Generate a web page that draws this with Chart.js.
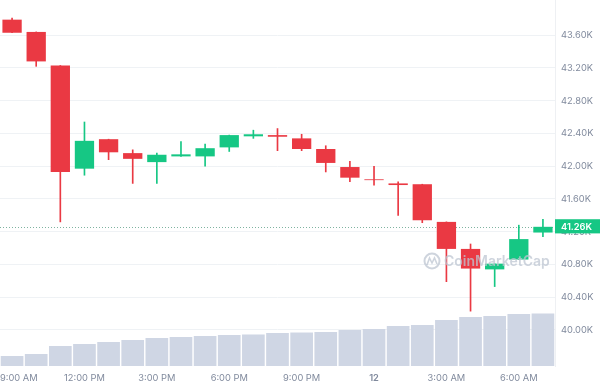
<!DOCTYPE html>
<html>
<head>
<meta charset="utf-8">
<script src="https://cdn.jsdelivr.net/npm/chart.js@4.4.1/dist/chart.umd.min.js"></script>
<style>
  html, body { margin: 0; padding: 0; background: #fff; }
</style>
</head>
<body>
<canvas id="chart" width="600" height="388"></canvas>
<script>
// hourly BTC candles (K USD)
const hours = ['9:00 AM', '10:00 AM', '11:00 AM', '12:00 PM', '1:00 PM', '2:00 PM', '3:00 PM', '4:00 PM',
  '5:00 PM', '6:00 PM', '7:00 PM', '8:00 PM', '9:00 PM', '10:00 PM', '11:00 PM', '12',
  '1:00 AM', '2:00 AM', '3:00 AM', '4:00 AM', '5:00 AM', '6:00 AM', '7:00 AM'];
const opens  = [43.79, 43.64, 43.23, 41.97, 42.33, 42.16, 42.05, 42.12, 42.12, 42.23, 42.365, 42.38,
  42.34, 42.21, 41.99, 41.84, 41.79, 41.78, 41.32, 40.99, 40.74, 40.86, 41.19];
const closes = [43.63, 43.28, 41.93, 42.31, 42.17, 42.09, 42.14, 42.145, 42.22, 42.38, 42.39, 42.36,
  42.21, 42.04, 41.86, 41.83, 41.77, 41.34, 40.99, 40.75, 40.81, 41.11, 41.26];
const highs  = [43.81, 43.64, 43.23, 42.54, 42.33, 42.20, 42.16, 42.30, 42.27, 42.38, 42.44, 42.46,
  42.39, 42.25, 42.06, 42.00, 41.81, 41.78, 41.32, 41.05, 40.81, 41.28, 41.35];
const lows   = [43.63, 43.22, 41.32, 41.89, 42.08, 41.79, 41.79, 42.12, 42.00, 42.18, 42.34, 42.19,
  42.19, 41.93, 41.81, 41.77, 41.40, 41.31, 40.59, 40.23, 40.53, 40.86, 41.14];
const volumes = [2.73, 3.28, 5.46, 6.01, 6.56, 7.10, 7.65, 7.92, 8.20, 8.47, 8.61, 9.02,
  9.15, 9.29, 9.84, 10.11, 10.93, 11.20, 12.57, 13.39, 13.66, 14.21, 14.37];
const yTicks = [40.00, 40.40, 40.80, 41.20, 41.60, 42.00, 42.40, 42.80, 43.20, 43.60];
const lastPrice = 41.26;

const green = '#16c784';
const red = '#ea3943';
const labelGray = '#808a9d';

const candleColors = opens.map((o, i) => closes[i] >= o ? green : red);
const bodies = opens.map((o, i) => [o, closes[i]]);
const wicks = lows.map((l, i) => [l, highs[i]]);

// dotted last-price line + watermark
const extras = {
  id: 'extras',
  afterLayout(chart) {
    // keep first time label inside the canvas
    const items = chart.scales.x.getLabelItems();
    if (items.length && items[0].options) {
      items[0].options.textAlign = 'left';
      items[0].options.translation[0] = chart.chartArea.left;
    }
  },
  beforeDatasetsDraw(chart) {
    const { ctx, chartArea } = chart;
    const y = chart.scales.y.getPixelForValue(lastPrice);
    ctx.save();
    ctx.strokeStyle = '#7fb3a0';
    ctx.lineWidth = 1;
    ctx.setLineDash([1, 2]);
    ctx.beginPath();
    ctx.moveTo(chartArea.left, Math.round(y) + 0.5);
    ctx.lineTo(chartArea.right, Math.round(y) + 0.5);
    ctx.stroke();
    ctx.restore();
  },
  afterDatasetsDraw(chart) {
    const ctx = chart.ctx;
    ctx.save();
    ctx.strokeStyle = 'rgba(190,197,210,0.75)';
    ctx.fillStyle = 'rgba(190,197,210,0.75)';
    ctx.lineWidth = 2;
    ctx.beginPath();
    ctx.arc(432, 261, 7.5, 0, Math.PI * 2);
    ctx.stroke();
    ctx.lineWidth = 1.6;
    ctx.beginPath();
    ctx.moveTo(427, 265);
    ctx.lineTo(429.5, 258);
    ctx.lineTo(432, 263);
    ctx.lineTo(434.5, 258);
    ctx.lineTo(437, 264);
    ctx.stroke();
    ctx.font = '600 14px Inter';
    ctx.textBaseline = 'middle';
    ctx.fillText('CoinMarketCap', 444, 262);
    ctx.restore();
  }
};

new Chart(document.getElementById('chart'), {
  type: 'bar',
  data: {
    labels: hours,
    datasets: [
      {
        label: 'Body',
        data: bodies,
        backgroundColor: candleColors,
        barPercentage: 0.8,
        categoryPercentage: 1,
        grouped: false,
        order: 1
      },
      {
        label: 'Wick',
        data: wicks,
        backgroundColor: candleColors,
        barThickness: 1,
        grouped: false,
        order: 2
      },
      {
        label: 'Volume',
        data: volumes,
        yAxisID: 'vol',
        backgroundColor: '#cfd6e4',
        barPercentage: 0.94,
        categoryPercentage: 1,
        grouped: false,
        order: 3
      }
    ]
  },
  options: {
    responsive: false,
    animation: false,
    layout: { padding: 0 },
    plugins: {
      legend: { display: false },
      tooltip: { enabled: false }
    },
    scales: {
      x: {
        grid: { display: false, drawTicks: false },
        border: { display: false },
        ticks: {
          autoSkip: false,
          maxRotation: 0,
          align: 'inner',
          padding: 7,
          color: labelGray,
          font: c => ({ family: 'Inter', size: 9.3, weight: c.tick && c.tick.label === '12' ? '600' : '400' }),
          callback: function (v, i) { return i % 3 === 0 ? this.getLabelForValue(v) : ''; }
        },
        afterFit: s => { s.height = 22; s.paddingLeft = 0; s.paddingRight = 0; }
      },
      y: {
        position: 'right',
        min: 39.56,
        max: 44.03,
        afterBuildTicks: s => { s.ticks = yTicks.concat([lastPrice]).map(v => ({ value: v })); },
        grid: {
          drawTicks: false,
          color: c => c.tick && c.tick.value === lastPrice ? 'rgba(0,0,0,0)' : '#eff2f5'
        },
        border: { display: true, color: '#eef0f3' },
        ticks: {
          padding: 6,
          color: c => c.tick && c.tick.value === lastPrice ? '#ffffff' : labelGray,
          font: c => ({ family: 'Inter', size: 9.3, weight: c.tick && c.tick.value === lastPrice ? '600' : '400' }),
          showLabelBackdrop: c => c.tick && c.tick.value === lastPrice,
          backdropColor: green,
          backdropPadding: { top: 2, bottom: 1, left: 8, right: 8 },
          callback: v => v.toFixed(2) + 'K'
        },
        afterFit: s => { s.width = 45; s.paddingTop = 0; s.paddingBottom = 0; }
      },
      vol: {
        display: false,
        min: 0,
        max: 100
      }
    }
  },
  plugins: [extras]
});
</script>
</body>
</html>
